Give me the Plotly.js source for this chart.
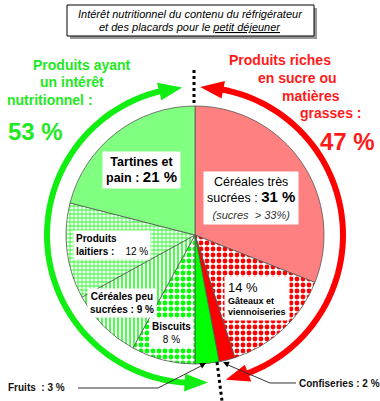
<!DOCTYPE html>
<html><head><meta charset="utf-8">
<script src="https://cdn.plot.ly/plotly-3.0.1.min.js"></script>
<style>html,body{margin:0;padding:0;background:#fff}#chart{width:380px;height:401px}</style>
</head><body><div id="chart"></div>
<script>
// Data (clockwise from 12 o'clock)
const categories = ["Céréales très sucrées", "Gâteaux et viennoiseries", "Confiseries", "Fruits", "Biscuits", "Céréales peu sucrées", "Produits laitiers", "Tartines et pain"];
const values = [31, 14, 2, 3, 8, 9, 12, 21];
const groupLabels = ["Produits riches en sucre ou matières grasses", "Produits ayant un intérêt nutritionnel"];
const groupValues = [47, 53];

const sliceColors = ["#FF8080", "#FF0000", "#FF0000", "#00FF00", "#00FF00", "#00FF00", "#00FF00", "#80FF80"];
const patternShapes = ["", ".", "", "", ".", "|", "+", ""];

const W = 380, H = 401;
const cx = 195, cy = 235, R = 148;
const fx = x => x / W, fy = y => 1 - y / H;
const pt = (deg, r) => { const t = deg * Math.PI / 180; return [cx + r * Math.sin(t), cy - r * Math.cos(t)]; };
const path = (pts, close) => pts.map((p, i) => (i ? 'L' : 'M') + fx(p[0]).toFixed(4) + ',' + fy(p[1]).toFixed(4)).join(' ') + (close ? ' Z' : '');
function arc(a1, a2, r) { const pts = []; const n = 60; for (let i = 0; i <= n; i++) pts.push(pt(a1 + (a2 - a1) * i / n, r)); return path(pts, false); }
function head(tipDeg, baseDeg, r, w) {
  const tip = pt(tipDeg, r); const t = baseDeg * Math.PI / 180;
  const b = pt(baseDeg, r); const dx = Math.sin(t), dy = -Math.cos(t);
  return path([tip, [b[0] + w * dx, b[1] + w * dy], [b[0] - w * dx, b[1] - w * dy]], true);
}
function tri(tip, from, len, w) {
  const dx = tip[0] - from[0], dy = tip[1] - from[1]; const L = Math.hypot(dx, dy);
  const ux = dx / L, uy = dy / L; const bx = tip[0] - ux * len, by = tip[1] - uy * len;
  return path([tip, [bx - uy * w, by + ux * w], [bx + uy * w, by - ux * w]], true);
}

const GREEN = "#22E822", RED = "#FF1A1A";
const shapes = [
  {type: 'rect', xref: 'paper', yref: 'paper', x0: fx(70), x1: fx(317), y0: fy(8), y1: fy(39), line: {width: 0}, fillcolor: '#999'},
  {type: 'rect', xref: 'paper', yref: 'paper', x0: fx(67), x1: fx(314), y0: fy(5), y1: fy(36), line: {width: 1, color: '#000'}, fillcolor: '#fff'},
  {type: 'path', xref: 'paper', yref: 'paper', path: arc(183, 347, R), line: {color: '#11EE11', width: 6}},
  {type: 'path', xref: 'paper', yref: 'paper', path: head(175, 184, R, 9), line: {width: 0}, fillcolor: '#11EE11'},
  {type: 'path', xref: 'paper', yref: 'paper', path: head(355, 346, R, 9), line: {width: 0}, fillcolor: '#11EE11'},
  {type: 'path', xref: 'paper', yref: 'paper', path: arc(10, 160, R), line: {color: '#FF0000', width: 6}},
  {type: 'path', xref: 'paper', yref: 'paper', path: head(2, 11, R, 9), line: {width: 0}, fillcolor: '#FF0000'},
  {type: 'path', xref: 'paper', yref: 'paper', path: head(168, 159, R, 9), line: {width: 0}, fillcolor: '#FF0000'},
  {type: 'line', xref: 'paper', yref: 'paper', x0: fx(194), x1: fx(194), y0: fy(70), y1: fy(104), line: {color: '#000', width: 3, dash: 'dot'}},
  {type: 'line', xref: 'paper', yref: 'paper', x0: fx(217), x1: fx(222), y0: fy(362), y1: fy(401), line: {color: '#000', width: 3, dash: 'dot'}},
  {type: 'path', xref: 'paper', yref: 'paper', path: path([[78, 388], [158, 388], [201, 366]]), line: {color: '#333', width: 1}},
  {type: 'path', xref: 'paper', yref: 'paper', path: tri([206, 363], [158, 388], 6, 3), line: {width: 0}, fillcolor: '#000'},
  {type: 'path', xref: 'paper', yref: 'paper', path: path([[296, 383], [270, 383], [228, 365]]), line: {color: '#333', width: 1}},
  {type: 'path', xref: 'paper', yref: 'paper', path: tri([223, 362], [270, 383], 6, 3), line: {width: 0}, fillcolor: '#000'}
];

const F = "Liberation Sans, Arial, sans-serif";
const A = (x, y, text, opts) => Object.assign({xref: 'paper', yref: 'paper', x: fx(x), y: fy(y), text: text, showarrow: false, xanchor: 'center', yanchor: 'middle', font: {family: F, size: 10, color: '#000'}}, opts || {});
const annotations = [
  A(190, 14, "<i>Intérêt nutritionnel du contenu du réfrigérateur</i>", {font: {family: F, size: 11, color: '#000'}}),
  A(190, 27, "<i>et des placards pour le <u>petit déjeuner</u></i>", {font: {family: F, size: 11, color: '#000'}}),
  A(82, 65, "<b>Produits ayant</b>", {font: {family: F, size: 14, color: GREEN}}),
  A(72, 82, "<b>un intérêt</b>", {font: {family: F, size: 14, color: GREEN}}),
  A(50, 100, "<b>nutritionnel :</b>", {font: {family: F, size: 14, color: GREEN}}),
  A(35, 132, "<b>" + groupValues[1] + " %</b>", {font: {family: F, size: 24, color: GREEN}}),
  A(280, 60, "<b>Produits riches</b>", {font: {family: F, size: 14, color: RED}}),
  A(297, 78, "<b>en sucre ou</b>", {font: {family: F, size: 14, color: RED}}),
  A(311, 96, "<b>matières</b>", {font: {family: F, size: 14, color: RED}}),
  A(330, 113, "<b>grasses :</b>", {font: {family: F, size: 14, color: RED}}),
  A(347, 142, "<b>" + groupValues[0] + " %</b>", {font: {family: F, size: 24, color: RED}}),
  A(141, 170, "<b>Tartines et<br>pain : <span style='font-size:15px'>" + values[7] + " %</span></b>", {font: {family: F, size: 12.5, color: '#000'}, bgcolor: '#fff', borderpad: 3}),
  A(251, 198, "Céréales très<br>sucrées : <b><span style='font-size:15px'>" + values[0] + " %</span></b><br><i><span style='font-size:11px;color:#333'>(sucres  > 33%)</span></i>", {font: {family: F, size: 12.5, color: '#000'}, bgcolor: '#fff', borderpad: 3}),
  A(112, 245, "<b>Produits</b><br><b>laitiers :</b>    " + values[6] + " %", {font: {family: F, size: 10, color: '#000'}, align: 'left', bgcolor: '#fff', borderpad: 2}),
  A(122, 303, "<b>Céréales peu<br>sucrées : " + values[5] + " %</b>", {font: {family: F, size: 10, color: '#000'}, bgcolor: '#fff', borderpad: 2}),
  A(171, 333, "<b>Biscuits</b><br>" + values[4] + " %", {font: {family: F, size: 10, color: '#000'}, bgcolor: '#fff', borderpad: 2}),
  A(257, 298, "<span style='font-size:13px'>" + values[1] + " %</span><br><b>Gâteaux et<br>viennoiseries</b>", {font: {family: F, size: 9, color: '#000'}, align: 'left', bgcolor: '#fff', borderpad: 3}),
  A(36, 387, "<b>Fruits  : " + values[3] + " %</b>", {font: {family: F, size: 10, color: '#111'}}),
  A(339, 383, "<b>Confiseries : " + values[2] + " %</b>", {font: {family: F, size: 10, color: '#111'}})
];

const trace = {
  type: 'pie', labels: categories, values: values, sort: false, direction: 'clockwise', rotation: 0,
  textinfo: 'none', hoverinfo: 'label+percent',
  domain: {x: [fx(66), fx(324)], y: [fy(364), fy(106)]},
  marker: {
    colors: sliceColors,
    line: {color: '#555', width: 0.8},
    pattern: {shape: patternShapes, fgcolor: sliceColors, bgcolor: "#fff", size: [6, 6, 6, 6, 6, 4, 4, 6], solidity: [0.5, 0.5, 0.5, 0.5, 0.5, 0.35, 0.35, 0.5], fillmode: 'replace'}
  }
};

Plotly.newPlot('chart', [trace], {
  width: W, height: H, margin: {l: 0, r: 0, t: 0, b: 0}, showlegend: false,
  paper_bgcolor: '#fff', shapes: shapes, annotations: annotations
}, {displayModeBar: false, staticPlot: true});
</script></body></html>
